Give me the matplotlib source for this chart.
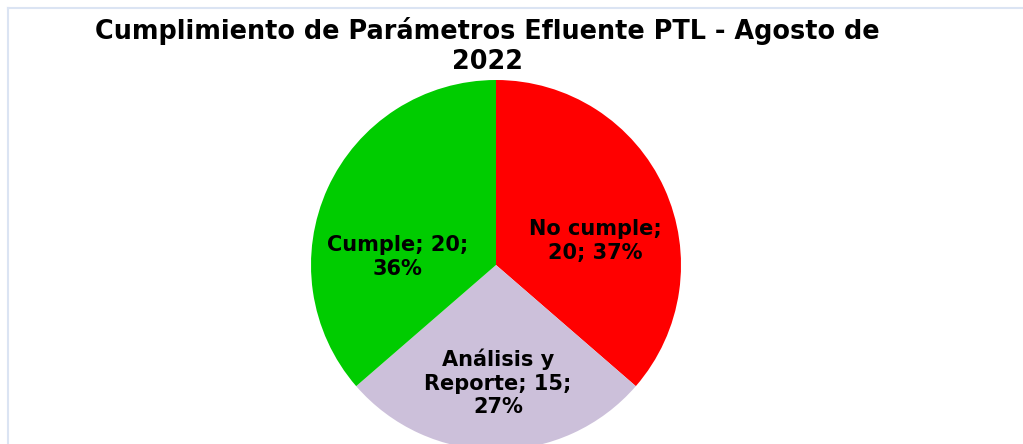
import matplotlib
matplotlib.use('Agg')
import matplotlib.pyplot as plt
from matplotlib.lines import Line2D

# ---- Data ----
categories = ['No cumple', 'Análisis y\nReporte', 'Cumple']
values = [20, 15, 20]
pct_labels = ['37%', '27%', '36%']   # as shown on the chart (Excel rounding)
colors = ['#ff0000', '#ccc0da', '#00cc00']

title = 'Cumplimiento de Parámetros Efluente PTL - Agosto de\n2022'

# ---- Figure (pixel-space axes) ----
W, H = 1023, 444
fig = plt.figure(figsize=(W / 100, H / 100), dpi=100)
fig.patch.set_facecolor('white')
ax = fig.add_axes([0, 0, 1, 1])

cx, cy, r = 496, H - 265, 185
wedges, _ = ax.pie(values, colors=colors, startangle=90, counterclock=False,
                   center=(cx, cy), radius=r, frame=True,
                   wedgeprops=dict(linewidth=0))
ax.set_xlim(0, W)
ax.set_ylim(0, H)
ax.set_aspect('equal')
ax.axis('off')

# data labels (best-fit positions as in the original)
label_text = [
    f'No cumple;\n{values[0]}; {pct_labels[0]}',
    f'Análisis y\nReporte; {values[1]};\n{pct_labels[1]}',
    f'Cumple; {values[2]};\n{pct_labels[2]}',
]
label_pos = [(595, H - 241), (498, H - 383), (398, H - 257)]
for txt, (x, y) in zip(label_text, label_pos):
    ax.text(x, y, txt, ha='center', va='center', fontsize=15,
            fontweight='bold', color='black', linespacing=1.22,
            family='DejaVu Sans')

# title
fig.text(487 / W, 1 - 46 / H, title, ha='center', va='center',
         fontsize=18.4, fontweight='bold', color='black',
         linespacing=1.22, family='DejaVu Sans')

# chart-area frame (only top and left edges are visible in the crop)
frame_col = '#dbe4f3'
fig.add_artist(Line2D([7.5 / W, 1], [1 - 8 / H, 1 - 8 / H],
                      color=frame_col, lw=1.5, transform=fig.transFigure))
fig.add_artist(Line2D([7.5 / W, 7.5 / W], [0, 1 - 8 / H],
                      color=frame_col, lw=1.5, transform=fig.transFigure))

plt.savefig('out.png', dpi=100, facecolor='white')
plt.close()
